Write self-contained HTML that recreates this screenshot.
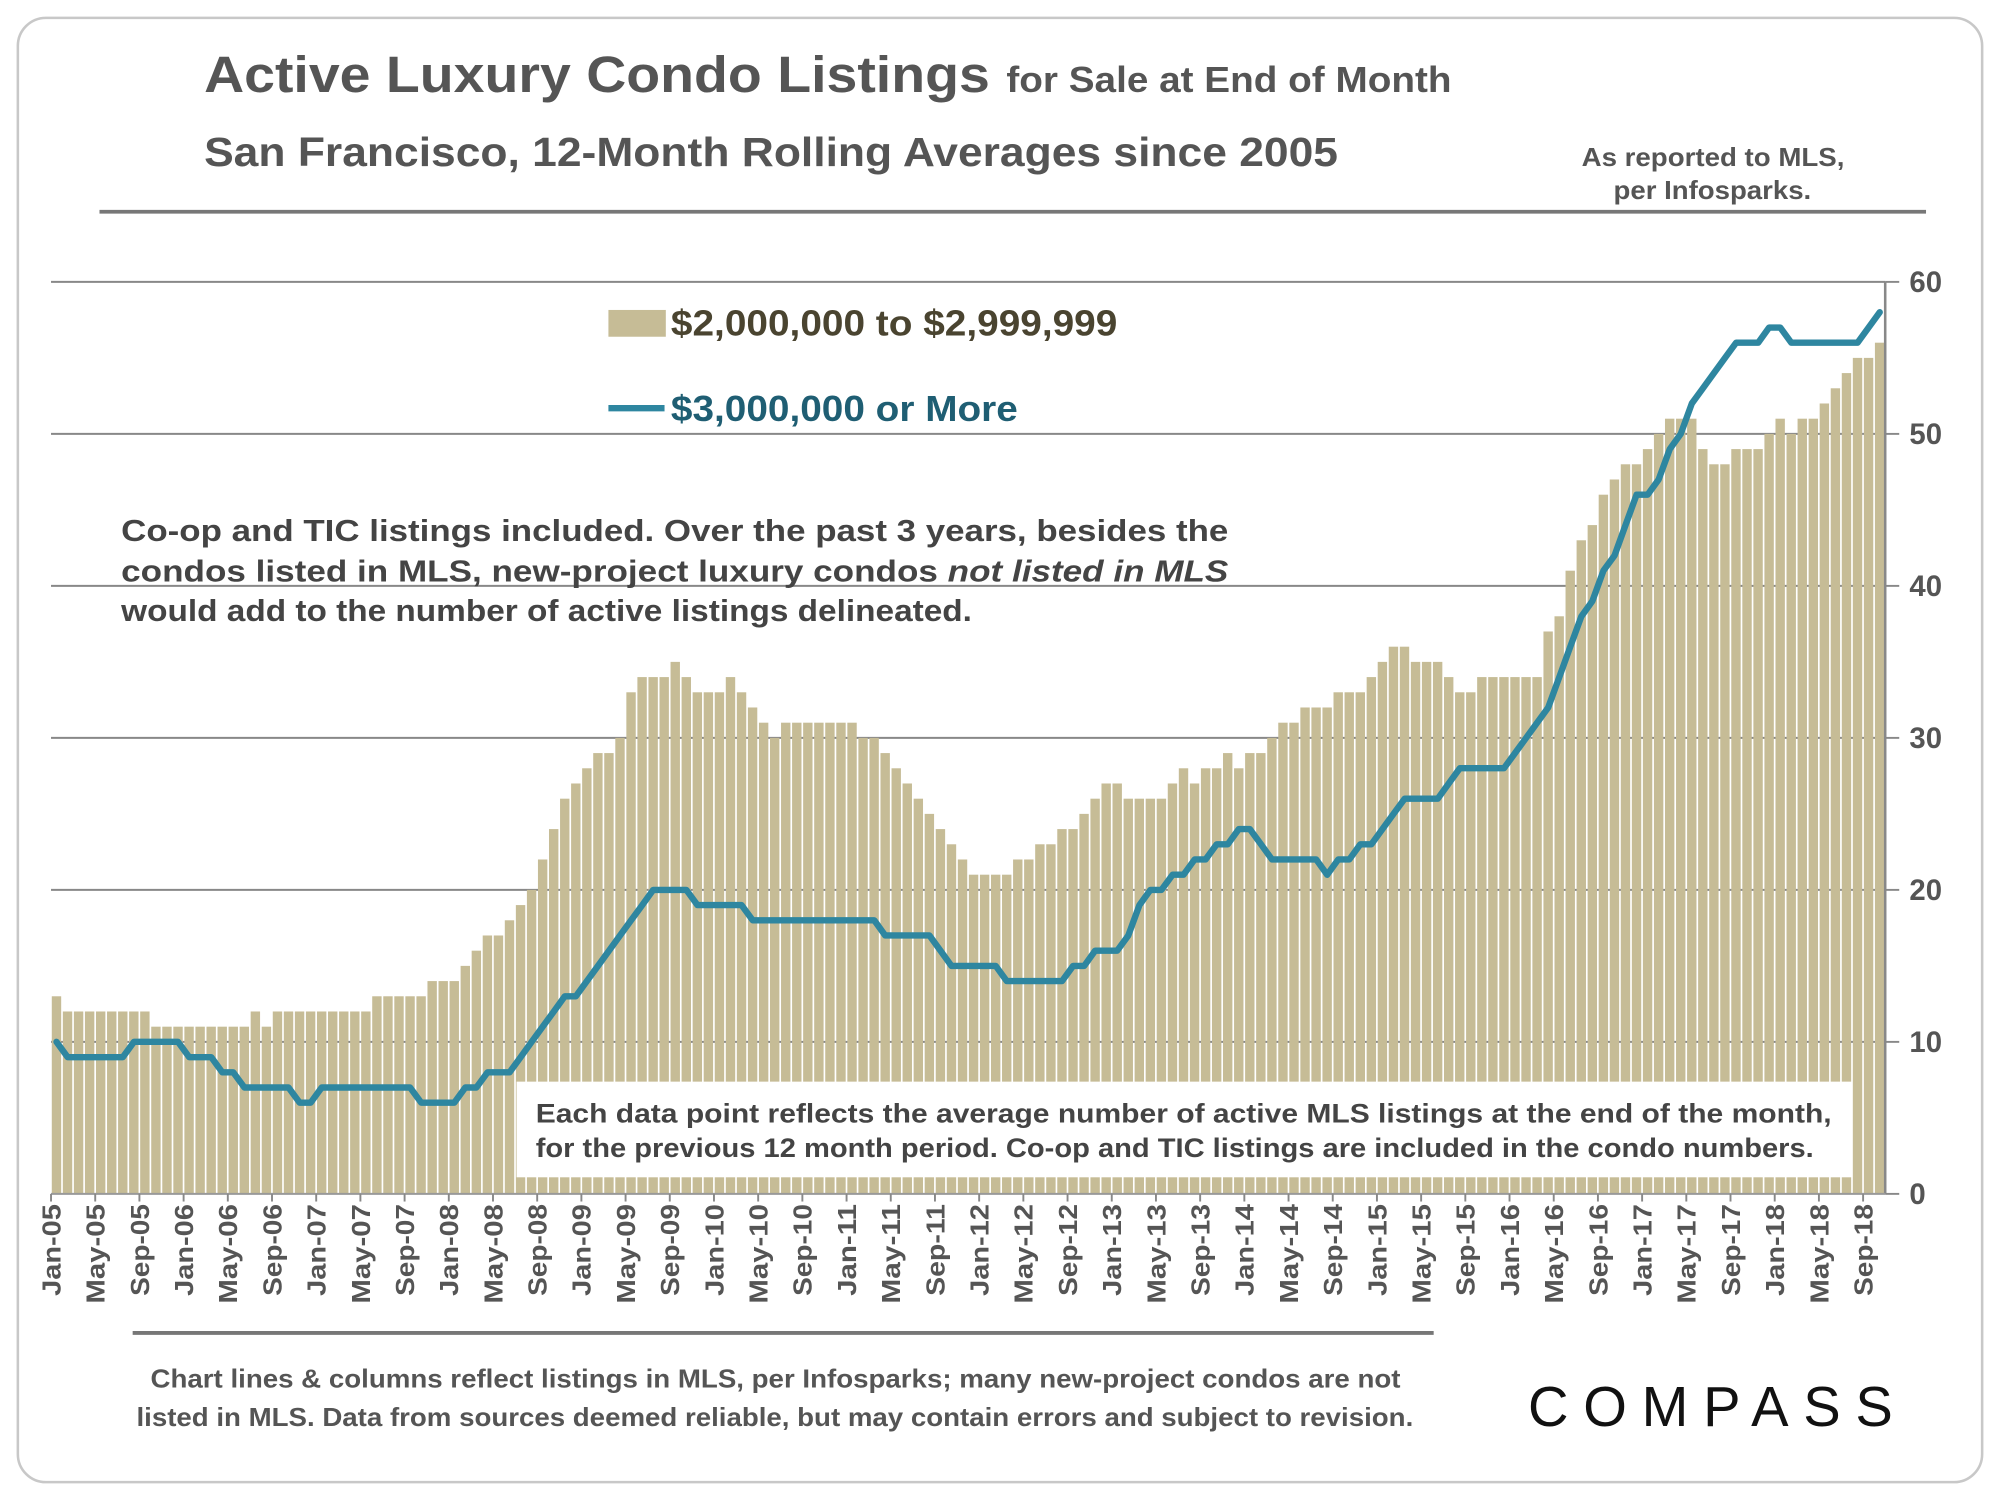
<!DOCTYPE html>
<html><head><meta charset="utf-8"><style>
html,body{margin:0;padding:0;background:#fff;}
svg{display:block;font-family:"Liberation Sans",Arial,sans-serif;font-weight:bold;}
</style></head><body>
<svg id="chart" width="2000" height="1500" viewBox="0 0 1568 1176" preserveAspectRatio="none" xmlns="http://www.w3.org/2000/svg">
<rect x="14" y="14" width="1540" height="1148" rx="22" fill="#fff" stroke="#c8c8c8" stroke-width="2"/>
<text x="160" y="72" fill="#555" font-size="40" textLength="616" lengthAdjust="spacingAndGlyphs">Active Luxury Condo Listings</text>
<text x="789" y="72" fill="#555" font-size="28" textLength="349" lengthAdjust="spacingAndGlyphs">for Sale at End of Month</text>
<text x="160" y="130" fill="#555" font-size="32" textLength="889" lengthAdjust="spacingAndGlyphs">San Francisco, 12-Month Rolling Averages since 2005</text>
<text x="1240" y="130" fill="#555" font-size="20" textLength="206" lengthAdjust="spacingAndGlyphs">As reported to MLS,</text>
<text x="1265" y="156" fill="#555" font-size="20" textLength="155" lengthAdjust="spacingAndGlyphs">per Infosparks.</text>
<line x1="78" y1="166" x2="1510" y2="166" stroke="#777" stroke-width="3"/>
<g id="grid"></g>
<g id="bars"></g>
<g id="axis"></g>
<polyline id="line" fill="none" stroke="#2e86a0" stroke-width="5" stroke-linejoin="round" stroke-linecap="round"/>
<rect x="477" y="243" width="45" height="21" fill="#c6bc96"/>
<text x="526" y="263" fill="#4a4430" font-size="28" textLength="350" lengthAdjust="spacingAndGlyphs">$2,000,000 to $2,999,999</text>
<line x1="477" y1="320" x2="521" y2="320" stroke="#2e86a0" stroke-width="5"/>
<text x="526" y="330" fill="#1f5e73" font-size="28" textLength="272" lengthAdjust="spacingAndGlyphs">$3,000,000 or More</text>
<g fill="#444" font-size="24">
<text x="95" y="424" textLength="868" lengthAdjust="spacingAndGlyphs">Co-op and TIC listings included. Over the past 3 years, besides the</text>
<text x="95" y="456" textLength="868" lengthAdjust="spacingAndGlyphs">condos listed in MLS, new-project luxury condos <tspan font-style="italic">not listed in MLS</tspan></text>
<text x="95" y="487" textLength="667" lengthAdjust="spacingAndGlyphs">would add to the number of active listings delineated.</text>
</g>
<rect x="405" y="848" width="1047" height="75" fill="#fff"/>
<text x="420" y="880" fill="#444" font-size="21" textLength="1016" lengthAdjust="spacingAndGlyphs">Each data point reflects the average number of active MLS listings at the end of the month,</text>
<text x="420" y="907" fill="#444" font-size="21" textLength="1002" lengthAdjust="spacingAndGlyphs">for the previous 12 month period. Co-op and TIC listings are included in the condo numbers.</text>
<line x1="104" y1="1045" x2="1124" y2="1045" stroke="#777" stroke-width="3"/>
<text x="118" y="1088" fill="#555" font-size="20" textLength="980" lengthAdjust="spacingAndGlyphs">Chart lines &amp; columns reflect listings in MLS, per Infosparks; many new-project condos are not</text>
<text x="107" y="1118" fill="#555" font-size="20" textLength="1001" lengthAdjust="spacingAndGlyphs">listed in MLS. Data from sources deemed reliable, but may contain errors and subject to revision.</text>
<text x="1198" y="1118" fill="#111" font-size="44" font-weight="normal" textLength="286" lengthAdjust="spacing">COMPASS</text>
</svg>
<script>
const months = ['Jan','Feb','Mar','Apr','May','Jun','Jul','Aug','Sep','Oct','Nov','Dec'];
const yTicks = [0,10,20,30,40,50,60];
const barValues = [13,12,12,12,12,12,12,12,12,11,11,11,11,11,11,11,11,11,12,11,
12,12,12,12,12,12,12,12,12,13,13,13,13,13,14,14,14,15,16,17,
17,18,19,20,22,24,26,27,28,29,29,30,33,34,34,34,35,34,33,33,
33,34,33,32,31,30,31,31,31,31,31,31,31,30,30,29,28,27,26,25,
24,23,22,21,21,21,21,22,22,23,23,24,24,25,26,27,27,26,26,26,
26,27,28,27,28,28,29,28,29,29,30,31,31,32,32,32,33,33,33,34,
35,36,36,35,35,35,34,33,33,34,34,34,34,34,34,37,38,41,43,44,
46,47,48,48,49,50,51,51,51,49,48,48,49,49,49,50,51,50,51,51,
52,53,54,55,55,56];
const lineValues = [10,9,9,9,9,9,9,10,10,10,10,10,9,9,9,8,8,7,7,7,
7,7,6,6,7,7,7,7,7,7,7,7,7,6,6,6,6,7,7,8,
8,8,9,10,11,12,13,13,14,15,16,17,18,19,20,20,20,20,19,19,
19,19,19,18,18,18,18,18,18,18,18,18,18,18,18,17,17,17,17,17,
16,15,15,15,15,15,14,14,14,14,14,14,15,15,16,16,16,17,19,20,
20,21,21,22,22,23,23,24,24,23,22,22,22,22,22,21,22,22,23,23,
24,25,26,26,26,26,27,28,28,28,28,28,29,30,31,32,34,36,38,39,
41,42,44,46,46,47,49,50,52,53,54,55,56,56,56,57,57,56,56,56,
56,56,56,56,57,58];
const NS='http://www.w3.org/2000/svg';
const X0=40, X1=1478, Y0=936, Y1=221, YMAX=60;
const n = barValues.length;
const step=(X1-X0)/n;
const xC=i=>X0+step*(i+0.5);
const yS=v=>Y0-(Y0-Y1)*v/YMAX;
const grid=document.getElementById('grid'), bars=document.getElementById('bars'), axis=document.getElementById('axis');
function mk(tag,attrs,parent){const e=document.createElementNS(NS,tag);for(const k in attrs)e.setAttribute(k,attrs[k]);parent.appendChild(e);return e;}
yTicks.forEach(t=>{
  if(t>0){const g=mk('line',{x1:X0,x2:X1,y1:yS(t),y2:yS(t),stroke:'#888','stroke-width':1.5},grid);
  
  }
  const tk=mk('line',{x1:X1,x2:X1+11,y1:yS(t),y2:yS(t),stroke:'#888','stroke-width':1.5},axis);
  
  
  const lb=mk('text',{x:1497,y:yS(t)+8,fill:'#555','font-size':23},axis);
  lb.textContent=t;
  
  
});
barValues.forEach((v,i)=>{
  const r=mk('rect',{x:X0+step*i+0.6,y:yS(v),width:step-1.3,height:Y0-yS(v),fill:'#c6bc96'},bars);
  
  
});
const ax=mk('line',{x1:X1,x2:X1,y1:Y1,y2:Y0,stroke:'#888','stroke-width':2},axis);


const xa=mk('line',{x1:X0,x2:X1,y1:Y0,y2:Y0,stroke:'#999','stroke-width':1.5},axis);


for(let i=0;i<n;i+=4){
  const tx=X0+step*i;
  const tk=mk('line',{x1:tx,x2:tx,y1:Y0,y2:Y0+6,stroke:'#888','stroke-width':1.5},axis);
  
  
  const yr=String(5+Math.floor(i/12)).padStart(2,'0');
  const lbl=months[i%12]+'-'+yr;
  const t=mk('text',{x:0,y:0,fill:'#555','font-size':20,'text-anchor':'end',textLength:(lbl.startsWith('May')?78:72),lengthAdjust:'spacingAndGlyphs',transform:`translate(${xC(i)+3},${Y0+8}) rotate(-90)`},axis);
  t.textContent=lbl;
  
  
}
document.getElementById('line').setAttribute('points',lineValues.map((v,i)=>xC(i).toFixed(1)+','+yS(v).toFixed(1)).join(' '));
</script>
</body></html>
